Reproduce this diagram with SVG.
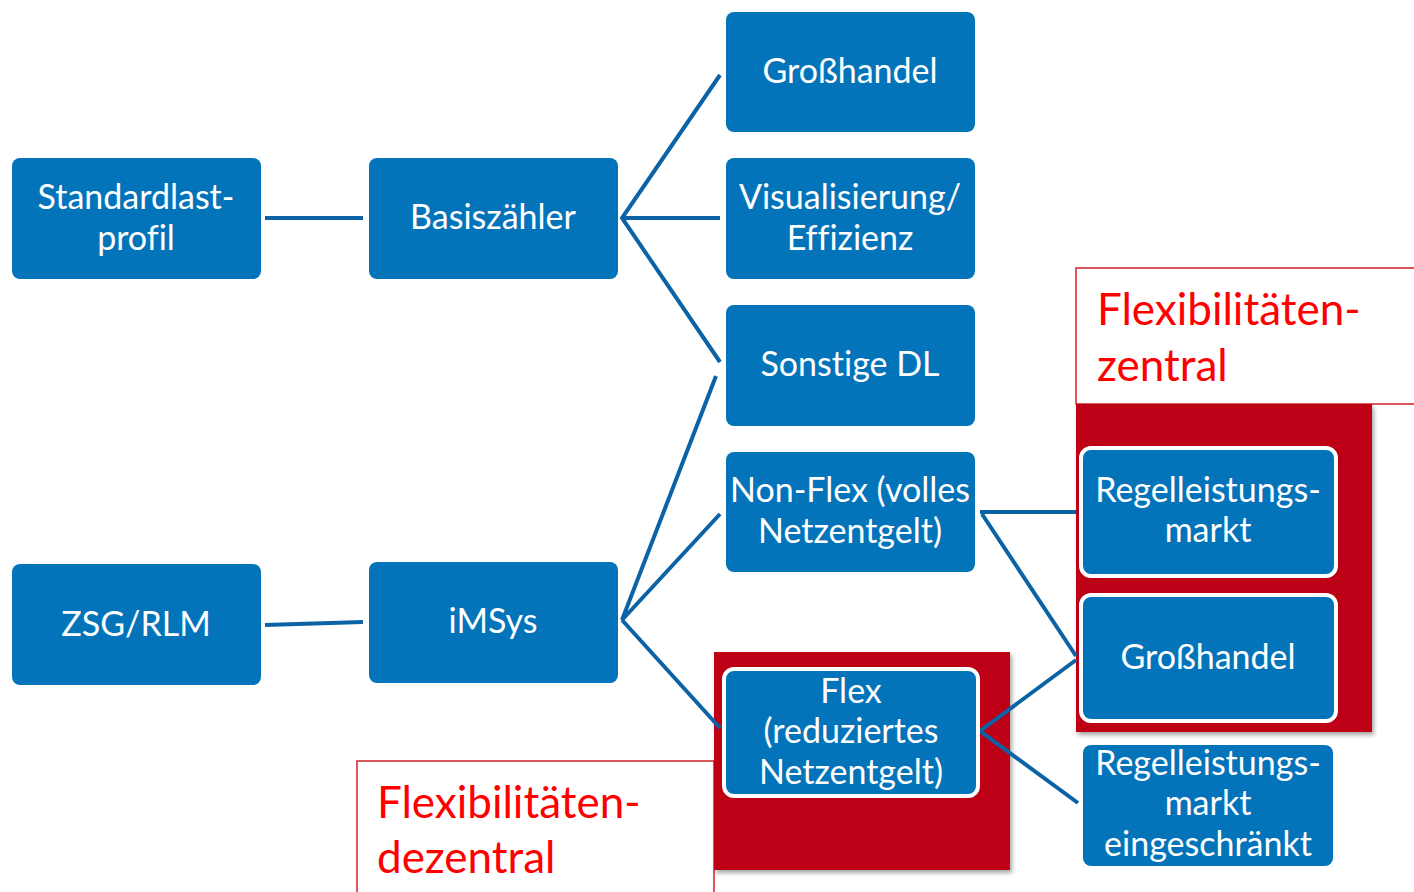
<svg xmlns="http://www.w3.org/2000/svg" width="1414" height="892" viewBox="0 0 1414 892">
<style>
.n{fill:#0474BA}
.nw{fill:#0474BA;stroke:#fff;stroke-width:4}
.t{font-family:Lato,"Liberation Sans",sans-serif;font-size:34px;fill:#fff;text-anchor:middle;font-variant-ligatures:none}
.r{font-family:Lato,"Liberation Sans",sans-serif;font-size:44px;fill:#FF0000;font-variant-ligatures:none}
.c{stroke:#0B63A5;stroke-width:4;fill:none}
.lab{fill:#fff;stroke:#D0202A;stroke-width:1.5}
.red{fill:#BE0418}
</style>
<defs>
<filter id="sh" x="-5%" y="-5%" width="115%" height="115%">
<feDropShadow dx="2" dy="3" stdDeviation="2" flood-color="#000" flood-opacity="0.35"/>
</filter>
</defs>
<g id="label-zentral">
<rect class="lab" x="1076" y="268" width="340" height="136"/>
<text class="r" x="1097" y="325">Flexibilitäten-</text>
<text class="r" x="1097" y="381">zentral</text>
</g>
<g id="label-dezentral">
<rect class="lab" x="357" y="761" width="357" height="140"/>
<text class="r" x="377" y="818">Flexibilitäten-</text>
<text class="r" x="377" y="873">dezentral</text>
</g>
<g id="area-zentral"><rect class="red" x="1076" y="404" width="296" height="328" filter="url(#sh)"/></g>
<g id="area-dezentral"><rect class="red" x="714" y="652" width="296" height="218" filter="url(#sh)"/></g>
<g id="connectors">
<line class="c" x1="265" y1="218" x2="363" y2="218"/>
<line class="c" x1="265" y1="625" x2="363" y2="622"/>
<polyline class="c" points="720,75 622,218 720,362"/>
<line class="c" x1="622" y1="218" x2="720" y2="218"/>
<polyline class="c" points="716,376 622,620 720,514"/>
<line class="c" x1="622" y1="620" x2="720" y2="728"/>
<line class="c" x1="980" y1="512" x2="1076" y2="512"/>
<line class="c" x1="982" y1="514" x2="1076" y2="656"/>
<polyline class="c" points="1076,660 980,731 1078,803"/>
</g>
<g id="standardlast"><rect class="n" x="12" y="158" width="249" height="121" rx="8"/><text class="t" x="136" y="209">Standardlast-</text><text class="t" x="136" y="250">profil</text></g>
<g id="basiszaehler"><rect class="n" x="369" y="158" width="249" height="121" rx="8"/><text class="t" x="493" y="229">Basiszähler</text></g>
<g id="zsg"><rect class="n" x="12" y="564" width="249" height="121" rx="8"/><text class="t" x="136" y="636">ZSG/RLM</text></g>
<g id="imsys"><rect class="n" x="369" y="562" width="249" height="121" rx="8"/><text class="t" x="493" y="633">iMSys</text></g>
<g id="grosshandel1"><rect class="n" x="726" y="12" width="249" height="120" rx="8"/><text class="t" x="850" y="83">Großhandel</text></g>
<g id="visualisierung"><rect class="n" x="726" y="158" width="249" height="121" rx="8"/><text class="t" x="850" y="209">Visualisierung/</text><text class="t" x="850" y="250">Effizienz</text></g>
<g id="sonstige"><rect class="n" x="726" y="305" width="249" height="121" rx="8"/><text class="t" x="850" y="376">Sonstige DL</text></g>
<g id="nonflex"><rect class="n" x="726" y="452" width="249" height="120" rx="8"/><text class="t" x="850" y="502">Non-Flex (volles</text><text class="t" x="850" y="543">Netzentgelt)</text></g>
<g id="flex"><rect class="nw" x="724" y="669" width="254" height="127" rx="10"/><text class="t" x="851" y="703">Flex</text><text class="t" x="851" y="743">(reduziertes</text><text class="t" x="851" y="784">Netzentgelt)</text></g>
<g id="regelleistung"><rect class="nw" x="1081" y="448" width="255" height="128" rx="10"/><text class="t" x="1208" y="502">Regelleistungs-</text><text class="t" x="1208" y="542">markt</text></g>
<g id="grosshandel2"><rect class="nw" x="1081" y="595" width="255" height="126" rx="10"/><text class="t" x="1208" y="669">Großhandel</text></g>
<g id="regelleistung-eingeschraenkt"><rect class="n" x="1083" y="745" width="250" height="121" rx="8"/><text class="t" x="1208" y="775">Regelleistungs-</text><text class="t" x="1208" y="815">markt</text><text class="t" x="1208" y="856">eingeschränkt</text></g>
</svg>
